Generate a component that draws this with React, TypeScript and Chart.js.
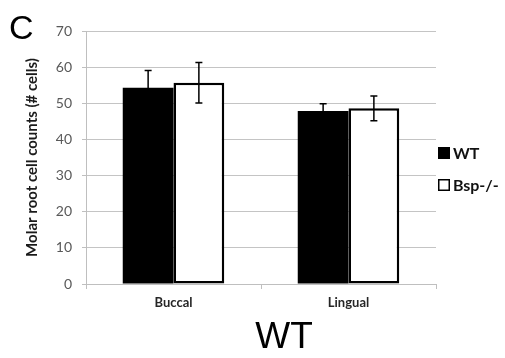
import React, { useEffect, useRef } from "react";
import { Chart, registerables } from "chart.js";

Chart.register(...registerables);

const categories = ["Buccal", "Lingual"];
const wtValues = [54.3, 47.9];
const wtErrors = [4.8, 2.0];
const bspValues = [55.7, 48.6];
const bspErrors = [5.6, 3.4];
const yTicks = [0, 10, 20, 30, 40, 50, 60, 70];
const seriesLabels = ["WT", "Bsp-/-"];

const errorBarPlugin = {
  id: "errorBars",
  afterDatasetsDraw(chart: any) {
    const ctx = chart.ctx;
    const y = chart.scales.y;
    const errs = [wtErrors, bspErrors];
    chart.data.datasets.forEach((ds: any, i: number) => {
      const meta = chart.getDatasetMeta(i);
      meta.data.forEach((bar: any, j: number) => {
        const v = ds.data[j];
        const e = errs[i][j];
        const x = bar.x;
        const yt = y.getPixelForValue(v + e);
        const yb = y.getPixelForValue(v - e);
        ctx.save();
        ctx.strokeStyle = "#000000";
        ctx.lineWidth = 1.5;
        ctx.beginPath();
        ctx.moveTo(x, yt);
        ctx.lineTo(x, yb);
        ctx.moveTo(x - 3.5, yt);
        ctx.lineTo(x + 3.5, yt);
        ctx.moveTo(x - 3.5, yb);
        ctx.lineTo(x + 3.5, yb);
        ctx.stroke();
        ctx.restore();
      });
    });
  },
};

const extrasPlugin = {
  id: "extras",
  afterDraw(chart: any) {
    const ctx = chart.ctx;
    ctx.save();
    ctx.fillStyle = "#000";
    ctx.font = "34px 'Liberation Sans', Arial, sans-serif";
    ctx.textAlign = "left";
    ctx.textBaseline = "alphabetic";
    ctx.fillText("C", 9, 39);
    ctx.font = "37px 'Liberation Sans', Arial, sans-serif";
    ctx.textAlign = "center";
    ctx.fillText("WT", 284, 348);
    const items = chart.data.datasets;
    const ys = [153, 185];
    items.forEach((ds: any, i: number) => {
      const cy = ys[i];
      ctx.fillStyle = ds.backgroundColor;
      ctx.fillRect(438, cy - 6, 12, 12);
      if (ds.borderWidth) {
        ctx.strokeStyle = "#000";
        ctx.lineWidth = 1.5;
        ctx.strokeRect(438.75, cy - 5.25, 10.5, 10.5);
      }
      ctx.fillStyle = "#111";
      ctx.font = "bold 16px Lato, 'Open Sans', sans-serif";
      ctx.textAlign = "left";
      ctx.textBaseline = "middle";
      ctx.fillText(ds.label, 453, cy + 1);
    });
    ctx.restore();
  },
};

export default function App() {
  const ref = useRef<HTMLCanvasElement | null>(null);
  useEffect(() => {
    if (!ref.current) return;
    const chart = new Chart(ref.current, {
      type: "bar",
      data: {
        labels: categories,
        datasets: [
          {
            label: seriesLabels[0],
            data: wtValues,
            backgroundColor: "#000000",
            borderWidth: 0,
            barPercentage: 1,
            categoryPercentage: 0.58,
          },
          {
            label: seriesLabels[1],
            data: bspValues,
            backgroundColor: "#ffffff",
            borderColor: "#000000",
            borderWidth: 2.5,
            borderSkipped: false,
            barPercentage: 1,
            categoryPercentage: 0.58,
          },
        ],
      },
      options: {
        responsive: false,
        animation: false,
        layout: { padding: { left: 0, right: 69, top: 31, bottom: 0 } },
        plugins: {
          legend: { display: false },
          tooltip: { enabled: false },
        },
        scales: {
          x: {
            grid: {
              drawOnChartArea: false,
              drawTicks: true,
              tickLength: 5,
              color: "#bfbfbf",
              offset: true,
            },
            border: { color: "#bfbfbf", width: 1 },
            ticks: {
              padding: 6,
              color: "#262626",
              font: { family: "Lato, 'Open Sans', sans-serif", size: 13, weight: "bold" },
            },
            afterFit(scale: any) {
              scale.height = 74;
            },
          },
          y: {
            min: 0,
            max: 70,
            afterBuildTicks(scale: any) {
              scale.ticks = yTicks.map((v) => ({ value: v }));
            },
            grid: { color: "#c4c4c4", drawTicks: true, tickLength: 4, tickColor: "#bfbfbf" },
            border: { color: "#bfbfbf", width: 1 },
            ticks: {
              padding: 10,
              color: "#595959",
              font: { family: "Lato, 'Open Sans', sans-serif", size: 14 },
            },
            title: {
              display: true,
              text: "Molar root cell counts (# cells)",
              color: "#1a1a1a",
              font: { family: "Lato, 'Open Sans', sans-serif", size: 15, weight: "bold" },
              padding: { top: 23, bottom: 0 },
            },
            afterFit(scale: any) {
              scale.width = 86;
            },
          },
        },
      },
      plugins: [errorBarPlugin, extrasPlugin],
    } as any);
    return () => chart.destroy();
  }, []);
  return (
    <div style={{ position: "absolute", left: 0, top: 0, width: 505, height: 358, background: "#fff" }}>
      <canvas ref={ref} width={505} height={358} />
    </div>
  );
}
